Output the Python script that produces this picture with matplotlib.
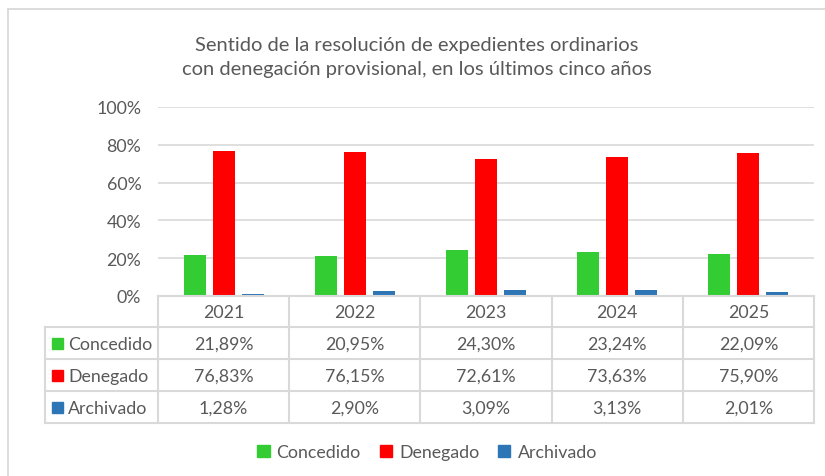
import matplotlib
matplotlib.use("Agg")
import matplotlib.pyplot as plt
from matplotlib.patches import Rectangle, Patch

plt.rcParams['font.family'] = ['Lato', 'DejaVu Sans']

years = ["2021", "2022", "2023", "2024", "2025"]
series_names = ["Concedido", "Denegado", "Archivado"]
concedido = [21.89, 20.95, 24.30, 23.24, 22.09]
denegado = [76.83, 76.15, 72.61, 73.63, 75.90]
archivado = [1.28, 2.90, 3.09, 3.13, 2.01]
yticks = [0, 20, 40, 60, 80, 100]
title = "Sentido de la resolución de expedientes ordinarios\ncon denegación provisional, en los últimos cinco años"

colors = ["#33CC33", "#FF0000", "#2E75B6"]
series = [concedido, denegado, archivado]
txt = "#595959"
grid = "#D9D9D9"

W, H = 825, 477
fig = plt.figure(figsize=(W / 100, H / 100), dpi=100)

# plot area (pixels)
L, R, T, B = 158, 814, 108, 297
ax = fig.add_axes([L / W, 1 - B / H, (R - L) / W, (B - T) / H])
n = len(years)
ax.set_xlim(0, n)
ax.set_ylim(0, 100)
step, bw = 0.221, 0.168
for k, (vals, c) in enumerate(zip(series, colors)):
    xs = [i + 0.5 + (k - 1) * step for i in range(n)]
    ax.bar(xs, vals, width=bw, color=c, zorder=3)
fs = 12.8
ax.set_yticks(yticks)
ax.set_yticklabels([f"{v}%" for v in yticks], color=txt, fontsize=fs)
ax.tick_params(axis='y', length=0, pad=12)
ax.set_xticks([])
ax.grid(axis='y', color=grid, lw=1.2, zorder=0)
for s in ax.spines.values():
    s.set_visible(False)

# overlays in pixel coords for table, border, title
ov = fig.add_axes([0, 0, 1, 1], zorder=-1)
ov.set_xlim(0, W)
ov.set_ylim(H, 0)
ov.axis('off')
ov2 = fig.add_axes([0, 0, 1, 1], zorder=5)
ov2.set_xlim(0, W)
ov2.set_ylim(H, 0)
ov2.axis('off')
ov2.patch.set_alpha(0)

# chart border
ov.plot([8, W], [10, 10], color=grid, lw=1.3)
ov.plot([8, 8], [10, H], color=grid, lw=1.3)

ov2.text(417, 58, title, ha='center', va='center', color=txt, fontsize=14.5,
         linespacing=1.5)

# table
colw = (R - L) / n
rows_y = [297, 328, 360, 392, 424]
lab_left = 45
lc = dict(color=grid, lw=1.5, solid_capstyle='projecting')
ov2.plot([L, R], [rows_y[0], rows_y[0]], **lc)
for y in rows_y[1:]:
    ov2.plot([lab_left, R], [y, y], **lc)
ov2.plot([lab_left, lab_left], [rows_y[1], rows_y[-1]], **lc)
for i in range(n + 1):
    x = L + i * colw
    ov2.plot([x, x], [rows_y[0], rows_y[-1]], **lc)
for i, yr in enumerate(years):
    cx = L + (i + 0.5) * colw
    ov2.text(cx, (rows_y[0] + rows_y[1]) / 2 + 1, yr, ha='center', va='center', color=txt, fontsize=fs)
for r, (name, vals, c) in enumerate(zip(series_names, series, colors)):
    cy = (rows_y[r + 1] + rows_y[r + 2]) / 2 + 1
    ov2.add_patch(Rectangle((52, cy - 6), 11, 11, color=c))
    ov2.text(68, cy, name, ha='left', va='center', color=txt, fontsize=fs)
    for i, v in enumerate(vals):
        cx = L + (i + 0.5) * colw
        ov2.text(cx, cy, f"{v:.2f}%".replace('.', ','), ha='center', va='center', color=txt, fontsize=fs)

# legend
handles = [Patch(color=c, label=nm) for nm, c in zip(series_names, colors)]
leg = fig.legend(handles=handles, loc='center', bbox_to_anchor=(427 / W, 1 - 453 / H), ncol=3,
                 frameon=False, handlelength=0.7, handleheight=0.7, handletextpad=0.4,
                 columnspacing=1.05, fontsize=fs)
for t in leg.get_texts():
    t.set_color(txt)

fig.savefig("out.png", dpi=100)
